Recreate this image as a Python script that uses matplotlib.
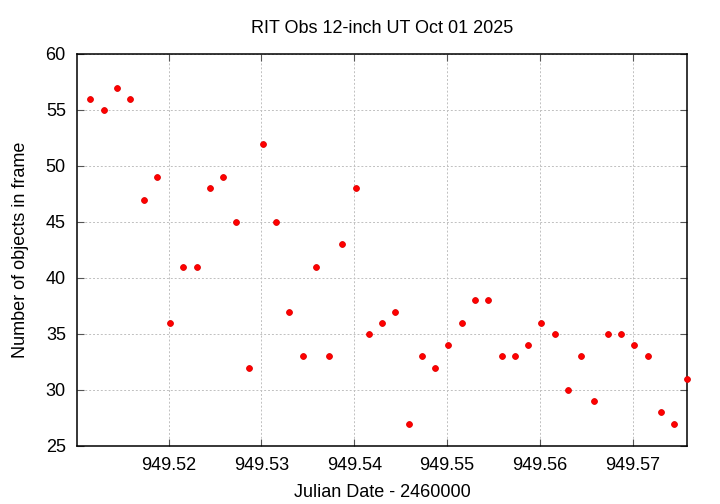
import matplotlib

matplotlib.use("Agg")
import matplotlib.pyplot as plt

plt.rcParams["font.family"] = ["Liberation Sans", "DejaVu Sans"]

# Julian Date - 2460000, one exposure about every two minutes
jd = [
    949.51155, 949.51300, 949.51443, 949.51586, 949.51731, 949.51871,
    949.52014, 949.52157, 949.52302, 949.52442, 949.52585, 949.52728,
    949.52869, 949.53013, 949.53159, 949.53300, 949.53444, 949.53587,
    949.53731, 949.53871, 949.54015, 949.54158, 949.54302, 949.54442,
    949.54586, 949.54730, 949.54870, 949.55013, 949.55157, 949.55301,
    949.55444, 949.55588, 949.55732, 949.55872, 949.56015, 949.56160,
    949.56303, 949.56446, 949.56586, 949.56731, 949.56874, 949.57017,
    949.57162, 949.57302, 949.57445, 949.57588,
]
n_objects = [
    56, 55, 57, 56, 47, 49, 36, 41, 41, 48, 49, 45, 32, 52, 45, 37,
    33, 41, 33, 43, 48, 35, 36, 37, 27, 33, 32, 34, 36, 38, 38, 33,
    33, 34, 36, 35, 30, 33, 29, 35, 35, 34, 33, 28, 27, 31,
]
x_ticks = [949.52, 949.53, 949.54, 949.55, 949.56, 949.57]
y_ticks = [25, 30, 35, 40, 45, 50, 55, 60]

fig = plt.figure(figsize=(7.2, 5.04), dpi=100)
ax = fig.add_axes([0.1069, 0.1151, 0.8477, 0.7778])

ax.plot(jd, n_objects, linestyle="none", marker="o", markersize=4.2,
        markerfacecolor="#ff0000", markeredgecolor="#e00000",
        markeredgewidth=0.6, clip_on=False, zorder=3)

ax.set_xlim(949.51012, 949.57589)
ax.set_ylim(25, 60)
ax.set_xticks(x_ticks)
ax.set_xticklabels([f"{t:.2f}" for t in x_ticks])
ax.set_yticks(y_ticks)

ax.grid(True, color="#c0c0c0", linestyle=(0, (2, 2)), linewidth=0.7)
ax.tick_params(direction="in", length=5, width=0.8, color="#555555",
               top=True, right=True, labelsize=13, pad=8)
for spine in ax.spines.values():
    spine.set_linewidth(1.1)
    spine.set_color("black")

ax.set_title("RIT Obs 12-inch UT Oct 01 2025", fontsize=13, pad=15)
ax.set_xlabel("Julian Date - 2460000", fontsize=13, labelpad=7)
ax.set_ylabel("Number of objects in frame", fontsize=13, labelpad=12)

fig.savefig("out.png", dpi=100)
plt.close(fig)
